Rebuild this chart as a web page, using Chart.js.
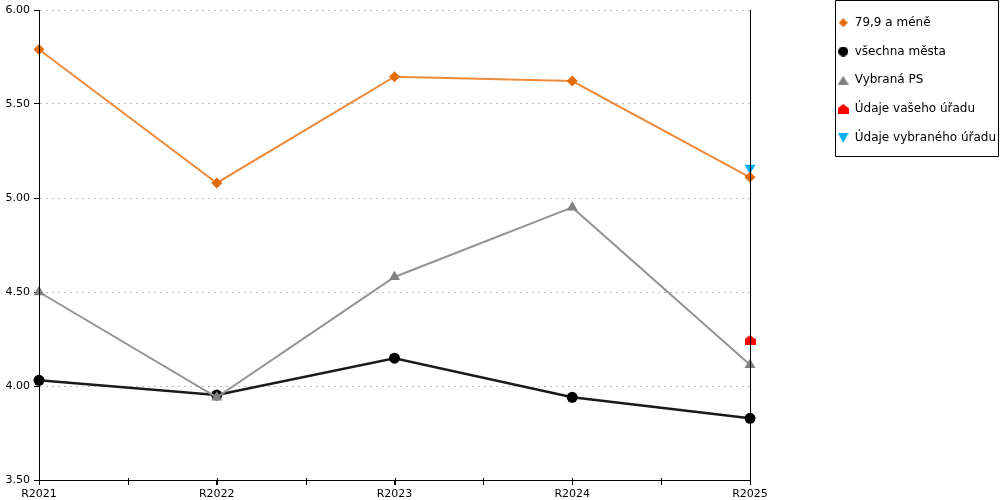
<!DOCTYPE html>
<html><head><meta charset="utf-8">
<script src="https://cdn.jsdelivr.net/npm/chart.js@4"></script>
<style>html,body{margin:0;padding:0;background:#fff;} #wrap{width:1000px;height:500px;position:relative}</style>
</head><body><div id="wrap"><canvas id="c"></canvas></div>
<script>
const categories = ['R2021','R2022','R2023','R2024','R2025'];
const seriesLabels = ['79,9 a méně','všechna města','Vybraná PS','Údaje vašeho úřadu','Údaje vybraného úřadu'];
const smallTowns = [5.79, 5.08, 5.645, 5.622, 5.11];
const allCities = [4.03, 3.952, 4.148, 3.94, 3.828];
const selectedPS = [4.50, 3.94, 4.58, 4.95, 4.113];
const yourOffice = [null, null, null, null, 4.245];
const selectedOffice = [null, null, null, null, 5.16];
const yMin = 3.5, yMax = 6.0, yStep = 0.5;

const FONT = 'DejaVu Sans';
const LEGEND_FONT = 12, LEGEND_PAD = 16.75, LEGEND_BOX = 11;
const LEGEND_MAXW = 150;          // layout width reserved for the legend
const LEGEND_LEFT = 821;          // where the legend content block starts
const RIGHT_AXIS_W = 1000 - 750 - LEGEND_MAXW;

function shape(kind, color, w, h) {
  const c = document.createElement('canvas'); c.width = w; c.height = h;
  const g = c.getContext('2d'); g.fillStyle = color; g.beginPath();
  if (kind === 'house') {
    g.moveTo(w / 2, 0); g.lineTo(w, h * 0.42); g.lineTo(w, h); g.lineTo(0, h); g.lineTo(0, h * 0.42);
  } else if (kind === 'up') {
    g.moveTo(w / 2, 0); g.lineTo(w, h); g.lineTo(0, h);
  } else if (kind === 'down') {
    g.moveTo(0, 0); g.lineTo(w, 0); g.lineTo(w / 2, h);
  } else if (kind === 'diamond') {
    g.moveTo(w / 2, 0); g.lineTo(w, h / 2); g.lineTo(w / 2, h); g.lineTo(0, h / 2);
  } else {
    g.arc(w / 2, h / 2, w / 2, 0, Math.PI * 2);
  }
  g.closePath(); g.fill(); return c;
}
const houseBig = shape('house', '#ff0000', 11, 10);
const legendMarks = [
  shape('diamond', '#e36c0a', 9, 9),
  shape('circle', '#000000', 10, 10),
  shape('up', '#808080', 11, 9),
  shape('house', '#ff0000', 11, 10),
  shape('down', '#00b0f0', 11, 10)
];

Chart.defaults.font.family = FONT;
Chart.defaults.font.size = 11;
Chart.defaults.color = '#000';

const extras = {
  id: 'extras',
  afterLayout(chart) {
    const lg = chart.legend;
    if (lg) { lg.left = LEGEND_LEFT; lg.right = 1000; lg.width = 1000 - LEGEND_LEFT; }
  },
  afterDraw(chart) {
    const ctx = chart.ctx, xs = chart.scales.x, y = chart.chartArea.bottom;
    ctx.save();
    ctx.strokeStyle = '#000'; ctx.lineWidth = 1; ctx.beginPath();
    for (let i = 0; i < categories.length; i++) {
      const p = xs.getPixelForValue(i);
      ctx.moveTo(Math.round(p) + 0.5, y - 2); ctx.lineTo(Math.round(p) + 0.5, y + 5);
      if (i < categories.length - 1) {
        const m = (p + xs.getPixelForValue(i + 1)) / 2;
        ctx.moveTo(Math.round(m) + 0.5, y - 2); ctx.lineTo(Math.round(m) + 0.5, y + 5);
      }
    }
    ctx.stroke();
    const lg = chart.legend;
    if (lg && lg.legendHitBoxes && lg.legendHitBoxes.length) {
      const hb = lg.legendHitBoxes;
      const left = Math.round(lg.left + LEGEND_PAD) - 3 + 0.5;
      const last = hb[hb.length - 1];
      const bottom = Math.round(last.top + last.height / 2) + 18 + 0.5;
      ctx.beginPath();
      ctx.rect(left, 0.5, 998.5 - left, bottom - 0.5);
      ctx.stroke();
    }
    ctx.restore();
  }
};

new Chart(document.getElementById('c'), {
  type: 'line',
  data: {
    labels: categories,
    datasets: [
      { label: seriesLabels[0], data: smallTowns, order: 0, borderColor: '#ee8a3c', backgroundColor: '#e36c0a',
        pointBackgroundColor: '#e36c0a', pointBorderColor: '#e36c0a', borderWidth: 2,
        pointStyle: 'rectRot', pointRadius: 5.5, pointBorderWidth: 0 },
      { label: seriesLabels[1], data: allCities, order: 2, borderColor: '#1a1a1a', backgroundColor: '#000',
        pointBackgroundColor: '#000', pointBorderColor: '#000', borderWidth: 2.5,
        pointStyle: 'circle', pointRadius: 5.5, pointBorderWidth: 0 },
      { label: seriesLabels[2], data: selectedPS, order: 1, borderColor: '#949494', backgroundColor: '#808080',
        pointBackgroundColor: '#808080', pointBorderColor: '#808080', borderWidth: 2,
        pointStyle: 'triangle', pointRadius: 6.3, pointBorderWidth: 0 },
      { label: seriesLabels[3], data: yourOffice, order: 3, borderColor: '#ff0000', backgroundColor: '#ff0000',
        pointBackgroundColor: '#ff0000', showLine: false, pointStyle: houseBig, pointRadius: 6 },
      { label: seriesLabels[4], data: selectedOffice, order: 4, borderColor: '#00b0f0', backgroundColor: '#00b0f0',
        pointBackgroundColor: '#00b0f0', pointBorderColor: '#00b0f0', showLine: false,
        pointStyle: 'triangle', rotation: 180, pointRadius: 6.3, pointBorderWidth: 0 }
    ]
  },
  options: {
    responsive: true, maintainAspectRatio: false, animation: false,
    layout: { padding: 0 },
    elements: { line: { tension: 0 } },
    datasets: { line: { clip: false } },
    plugins: {
      tooltip: { enabled: false },
      legend: {
        position: 'right', align: 'start', maxWidth: LEGEND_MAXW,
        labels: {
          usePointStyle: true, boxWidth: LEGEND_BOX, boxHeight: LEGEND_BOX, padding: LEGEND_PAD,
          font: { size: LEGEND_FONT, family: FONT }, color: '#000',
          generateLabels(chart) {
            const items = Chart.defaults.plugins.legend.labels.generateLabels(chart);
            items.sort((a, b) => a.datasetIndex - b.datasetIndex);
            items.forEach(it => { it.pointStyle = legendMarks[it.datasetIndex]; it.rotation = 0; });
            return items;
          }
        }
      }
    },
    scales: {
      x: {
        offset: false,
        grid: { display: true, drawOnChartArea: false, drawTicks: true, tickLength: 5, color: '#000' },
        border: { color: '#000', width: 1, z: 1 },
        ticks: { autoSkip: false, maxRotation: 0, padding: 3, color: '#000' },
        afterFit(s) { s.height = 20; s.paddingLeft = 0; s.paddingRight = 0; }
      },
      y: {
        min: yMin, max: yMax,
        grid: { color: '#bdbdbd', tickColor: '#000', tickLength: 5, tickBorderDash: [], lineWidth: 1 },
        border: { color: '#000', width: 1, dash: [2, 4], z: 1 },
        ticks: { stepSize: yStep, padding: 4, color: '#000', callback: v => Number(v).toFixed(2) },
        afterFit(s) { s.width = 39; s.paddingTop = 10; s.paddingBottom = 0; }
      },
      y2: {
        position: 'right', min: yMin, max: yMax,
        grid: { display: false },
        border: { color: '#000', width: 1, z: 1 },
        ticks: { display: false },
        afterFit(s) { s.width = RIGHT_AXIS_W; s.paddingTop = 10; s.paddingBottom = 0; }
      }
    }
  },
  plugins: [extras]
});
</script>
</body></html>
